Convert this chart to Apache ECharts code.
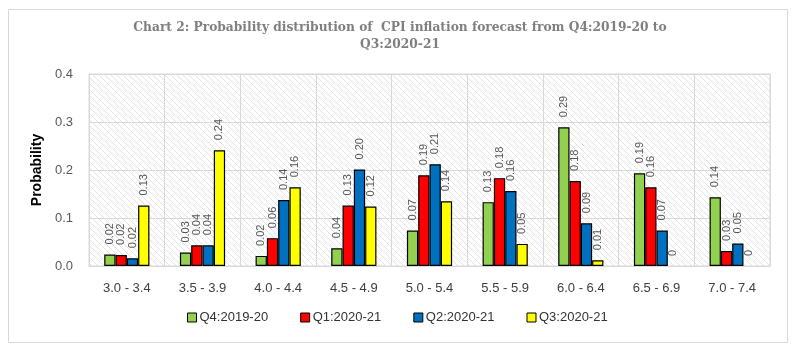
<!DOCTYPE html>
<html><head><meta charset="utf-8">
<script src="https://cdn.jsdelivr.net/npm/echarts@6/dist/echarts.min.js"></script>
<style>html,body{margin:0;padding:0;background:#fff}#c{width:800px;height:359px}</style>
</head><body><div id="c"></div>
<script>
const categories = ['3.0 - 3.4','3.5 - 3.9','4.0 - 4.4','4.5 - 4.9','5.0 - 5.4','5.5 - 5.9','6.0 - 6.4','6.5 - 6.9','7.0 - 7.4'];
const seriesNames = ['Q4:2019-20','Q1:2020-21','Q2:2020-21','Q3:2020-21'];
const q4_2019_20 = [0.024,0.028,0.021,0.037,0.074,0.133,0.289,0.193,0.143];
const q1_2020_21 = [0.023,0.043,0.058,0.126,0.189,0.183,0.177,0.164,0.031];
const q2_2020_21 = [0.016,0.043,0.1375,0.201,0.212,0.156,0.089,0.074,0.047];
const q3_2020_21 = [0.126,0.241,0.164,0.124,0.135,0.046,0.012,0,0];
const colors = ['#92d050','#ff0000','#0070c0','#ffff00'];
const titleLines = ['Chart 2: Probability distribution of  CPI inflation forecast from Q4:2019-20 to','Q3:2020-21'];

const pc = document.createElement('canvas');
pc.width = 6; pc.height = 6;
const g = pc.getContext('2d');
g.fillStyle = '#ffffff'; g.fillRect(0,0,6,6);
g.strokeStyle = '#e2e2e2'; g.lineWidth = 1;
g.beginPath(); g.moveTo(-1,-1); g.lineTo(7,7); g.moveTo(-7,-1); g.lineTo(1,7); g.moveTo(5,-1); g.lineTo(13,7); g.stroke();

const font = 'Liberation Sans, Arial, sans-serif';
const chart = echarts.init(document.getElementById('c'), null, {renderer:'canvas'});
const data = [q4_2019_20,q1_2020_21,q2_2020_21,q3_2020_21];
chart.setOption({
  animation:false,
  color: colors,
  graphic:[{type:'rect', shape:{x:8.5,y:9.5,width:779,height:333}, style:{fill:'none',stroke:'#d9d9d9',lineWidth:1}, silent:true}],
  title:{text: titleLines.join('\n'), left:'center', top:14,
    textStyle:{fontFamily:'DejaVu Serif Condensed, DejaVu Serif, serif', fontWeight:'bold', fontSize:13.6, color:'#7f7f7f', lineHeight:17}},
  grid:{left:89,right:30,top:74,bottom:93, show:true, backgroundColor:{image:pc, repeat:'repeat'}, borderColor:'#d9d9d9', borderWidth:1},
  legend:{bottom:30, left:182, itemWidth:9, itemHeight:9, itemGap:32, icon:'rect',
    textStyle:{fontFamily:font, fontSize:13, color:'#333', padding:[0,0,0,-2]},
    data: seriesNames.map((n,i)=>({name:n, itemStyle:{color:colors[i], borderColor:'#000', borderWidth:1}}))},
  xAxis:{type:'category', data:categories,
    axisLine:{lineStyle:{color:'#d9d9d9'}}, axisTick:{show:false},
    splitLine:{show:true, lineStyle:{color:'#d9d9d9'}},
    axisLabel:{fontFamily:font, fontSize:13, color:'#404040', margin:16}},
  yAxis:{type:'value', min:0, max:0.4, interval:0.1, name:'Probability', nameLocation:'middle', nameGap:45,
    nameTextStyle:{fontFamily:font, fontWeight:'bold', fontSize:14, color:'#000'},
    axisLine:{show:false}, axisTick:{show:false},
    splitLine:{lineStyle:{color:'#d9d9d9'}},
    axisLabel:{fontFamily:font, fontSize:13, color:'#595959', margin:16, formatter:v=>v.toFixed(1)}},
  series: seriesNames.map((n,i)=>({name:n, type:'bar', barWidth:11.3, barGap:'0%',
    data:data[i].map(v=>v===0?{value:v, itemStyle:{borderWidth:0}}:v),
    itemStyle:{color:colors[i], borderColor:'#000', borderWidth:1.2},
    label:{show:true, position:'top', rotate:90, align:'left', verticalAlign:'middle', distance:10,
      fontFamily:font, fontSize:11, color:'#595959', formatter:p=>p.value===0?'0':p.value.toFixed(2)}}))
});
</script></body></html>
